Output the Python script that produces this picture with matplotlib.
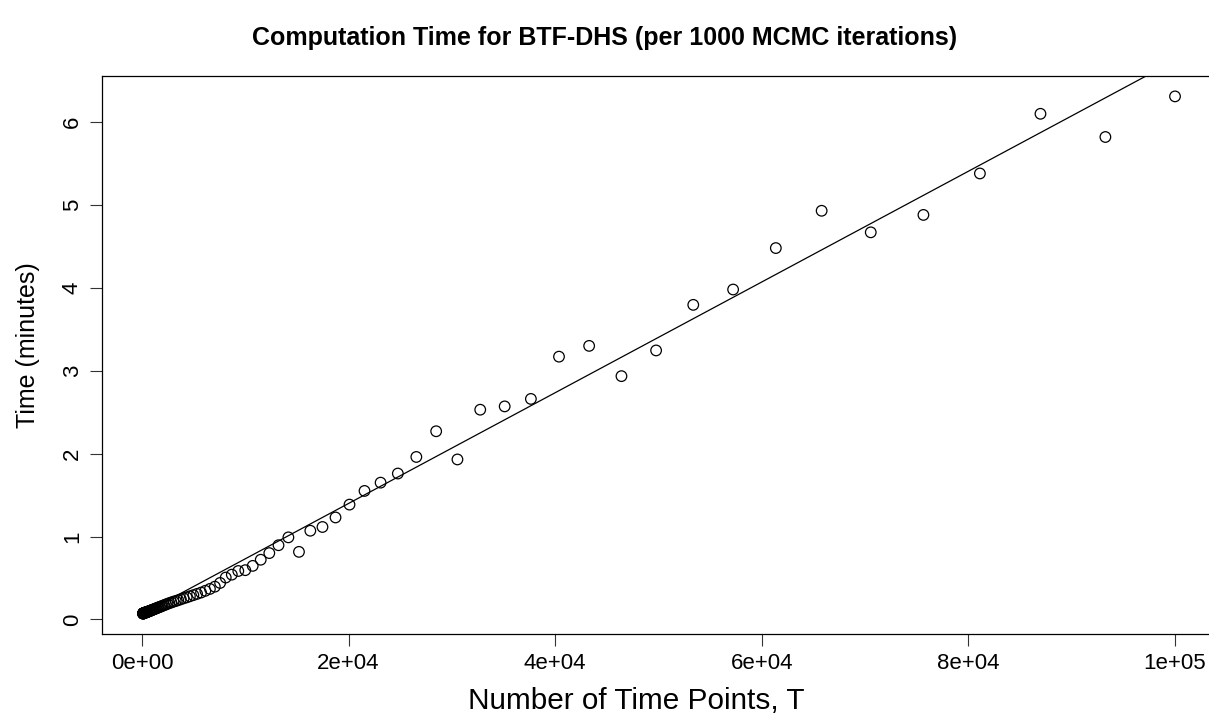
import matplotlib
matplotlib.use("Agg")
import matplotlib.pyplot as plt
import numpy as np

# Number of time points T (log-spaced run sizes)
T_points = [
    100, 107, 115, 123, 132, 142, 152, 163, 175, 187,
    201, 215, 231, 248, 266, 285, 305, 327, 351, 376,
    404, 433, 464, 498, 534, 572, 614, 658, 705, 756,
    811, 870, 933, 1000, 1072, 1150, 1233, 1322, 1417, 1520,
    1630, 1747, 1874, 2009, 2154, 2310, 2477, 2656, 2848, 3054,
    3274, 3511, 3765, 4037, 4329, 4642, 4977, 5337, 5722, 6136,
    6579, 7055, 7565, 8111, 8697, 9326, 10000, 10723, 11498, 12328,
    13219, 14175, 15199, 16298, 17475, 18738, 20092, 21544, 23101, 24771,
    26561, 28480, 30539, 32745, 35112, 37649, 40370, 43288, 46416, 49770,
    53367, 57224, 61359, 65793, 70548, 75646, 81113, 86975, 93260, 100000,
]

# Computation time in minutes per 1000 MCMC iterations
time_minutes = [
    0.070, 0.072, 0.071, 0.073, 0.074, 0.072, 0.075, 0.074, 0.076, 0.077,
    0.076, 0.078, 0.079, 0.080, 0.079, 0.081, 0.082, 0.083, 0.082, 0.085,
    0.086, 0.087, 0.089, 0.090, 0.092, 0.093, 0.095, 0.098, 0.099, 0.102,
    0.105, 0.108, 0.111, 0.115, 0.118, 0.122, 0.126, 0.131, 0.135, 0.141,
    0.146, 0.152, 0.158, 0.165, 0.172, 0.180, 0.188, 0.197, 0.205, 0.214,
    0.222, 0.232, 0.243, 0.255, 0.266, 0.279, 0.293, 0.308, 0.324, 0.345,
    0.368, 0.395, 0.440, 0.505, 0.540, 0.584, 0.594, 0.646, 0.720, 0.800,
    0.895, 0.990, 0.815, 1.070, 1.115, 1.230, 1.385, 1.550, 1.650, 1.760,
    1.960, 2.270, 1.930, 2.530, 2.570, 2.660, 3.170, 3.300, 2.935, 3.245,
    3.795, 3.980, 4.480, 4.930, 4.670, 4.880, 5.380, 6.100, 5.820, 6.310,
]

# Linear fit: time = intercept + slope * T
fit_intercept = 0.063
fit_slope = 6.68e-5

x_ticks = [0, 20000, 40000, 60000, 80000, 100000]
x_tick_labels = ["0e+00", "2e+04", "4e+04", "6e+04", "8e+04", "1e+05"]
y_ticks = [0, 1, 2, 3, 4, 5, 6]
y_tick_labels = ["0", "1", "2", "3", "4", "5", "6"]

plt.rcParams["font.family"] = ["Liberation Sans", "DejaVu Sans"]

W, H, DPI = 1209, 721, 100
fig = plt.figure(figsize=(W / DPI, H / DPI), dpi=DPI, facecolor="white")

# plot region in pixels (right edge runs past the canvas)
left_px, right_px, top_px, bottom_px = 101.7, 1216.3, 75.7, 634.3
ax = fig.add_axes([left_px / W, (H - bottom_px) / H,
                   (right_px - left_px) / W, (bottom_px - top_px) / H])

x = np.array(T_points, dtype=float)
y = np.array(time_minutes, dtype=float)

# base-R style 4% padding of the data range
xr = x.max() - x.min()
yr = y.max() - y.min()
ax.set_xlim(x.min() - 0.04 * xr, x.max() + 0.04 * xr)
ax.set_ylim(y.min() - 0.04 * yr, y.max() + 0.04 * yr)

ax.scatter(x, y, s=58, facecolors="none", edgecolors="black",
           linewidths=0.9, zorder=3)

xl = np.array([x.min(), x.max() * 1.1])
ax.plot(xl, fit_intercept + fit_slope * xl, color="black", lw=0.9, zorder=2)

ax.set_xticks(x_ticks)
ax.set_xticklabels(x_tick_labels)
ax.set_yticks(y_ticks)
ax.set_yticklabels(y_tick_labels, rotation=90, va="center")

ax.tick_params(axis="both", direction="out", length=8.5, width=0.8,
               color="#333333", labelsize=16, pad=5)
for s in ax.spines.values():
    s.set_linewidth(0.9)
    s.set_color("black")

fig.text(604.5 / W, 1 - 38 / H,
         "Computation Time for BTF-DHS (per 1000 MCMC iterations)",
         ha="center", va="center", fontsize=18, fontweight="bold")
fig.text(636.5 / W, 1 - 701 / H, "Number of Time Points, T",
         ha="center", va="center", fontsize=21.4)
fig.text(28 / W, 1 - 345 / H, "Time (minutes)",
         ha="center", va="center", fontsize=18, rotation=90)

fig.savefig("out.png", dpi=DPI, facecolor="white")
